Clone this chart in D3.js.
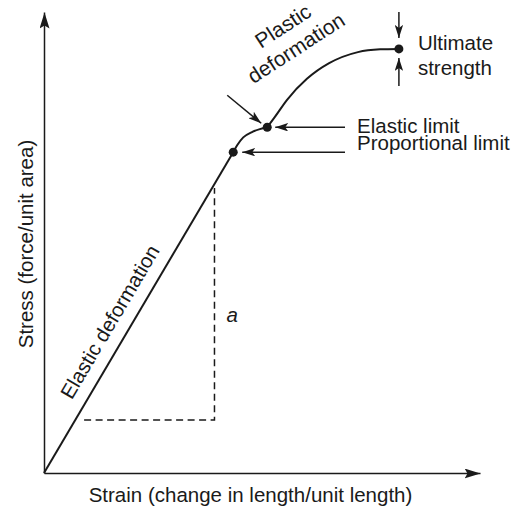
<!DOCTYPE html>
<html>
<head>
<meta charset="utf-8">
<script src="https://cdn.jsdelivr.net/npm/d3@7"></script>
<style>
  html, body { margin: 0; padding: 0; background: #fff; }
  svg { display: block; }
  text { font-family: "Liberation Sans", Arial, Helvetica, sans-serif; fill: #1a1a1a; }
</style>
</head>
<body>
<svg id="chart" width="515" height="507"></svg>
<script>
// ---------- data (strain %, stress % of axis) ----------
const elasticStrain = [0, 43.4];
const elasticStress = [0, 69.6];
const yieldStrain = [43.4, 44.3, 45.7, 47.6, 49.5, 51.2];
const yieldStress = [69.6, 71.1, 72.8, 73.9, 74.6, 75.0];
const plasticStrain = [51.2, 53.0, 55.7, 60.3, 65.4, 72.0, 77.1, 81.4];
const plasticStress = [75.0, 77.3, 80.9, 85.5, 88.9, 91.3, 91.9, 92.0];
const keyNames = ["Proportional limit", "Elastic limit", "Ultimate strength"];
const keyStrain = [43.4, 51.2, 81.4];
const keyStress = [69.6, 75.0, 92.0];
const slopeStrain = [9.2, 39.1, 39.1];
const slopeStress = [11.5, 11.5, 61.8];
const xLabel = "Strain (change in length/unit length)";
const yLabel = "Stress (force/unit area)";

// ---------- setup ----------
const ink = "#1a1a1a";
const fs = 20.5;
const svg = d3.select("#chart");
const x = d3.scaleLinear().domain([0, 100]).range([44, 480]);
const y = d3.scaleLinear().domain([0, 100]).range([473, 12]);
const zip = (a, b) => a.map((v, i) => [v, b[i]]);

const defs = svg.append("defs");
function marker(id, len, hw, notch) {
  defs.append("marker")
    .attr("id", id).attr("markerUnits", "userSpaceOnUse")
    .attr("viewBox", `${-len} ${-hw} ${len} ${hw * 2}`)
    .attr("refX", 0).attr("refY", 0)
    .attr("markerWidth", len).attr("markerHeight", hw * 2)
    .attr("orient", "auto")
    .append("path")
    .attr("d", `M0,0L${-len},${-hw}L${-len + notch},0L${-len},${hw}Z`)
    .attr("fill", ink);
}
marker("axisHead", 16, 5, 3);
marker("noteHead", 13, 4.2, 3);

// ---------- axes ----------
const gx = svg.append("g").attr("transform", `translate(0,${y(0)})`)
  .call(d3.axisBottom(x).ticks(0).tickSizeOuter(0).tickSizeInner(0));
const gy = svg.append("g").attr("transform", `translate(${x(0)},0)`)
  .call(d3.axisLeft(y).ticks(0).tickSizeOuter(0).tickSizeInner(0));
[gx, gy].forEach(g => {
  g.selectAll("text").remove();
  g.select(".domain").attr("stroke", ink).attr("stroke-width", 1.5)
    .attr("marker-end", "url(#axisHead)");
});

svg.append("text").attr("x", 250.5).attr("y", 502)
  .attr("text-anchor", "middle").attr("font-size", fs).text(xLabel);
svg.append("text").attr("transform", `translate(33,244) rotate(-90)`)
  .attr("text-anchor", "middle").attr("font-size", fs).text(yLabel);

// ---------- curve ----------
const line = d3.line().x(d => x(d[0])).y(d => y(d[1]));
const smooth = d3.line().x(d => x(d[0])).y(d => y(d[1])).curve(d3.curveMonotoneX);
svg.append("path").attr("d", line(zip(elasticStrain, elasticStress)))
  .attr("fill", "none").attr("stroke", ink).attr("stroke-width", 2);
svg.append("path").attr("d", smooth(zip(yieldStrain, yieldStress)))
  .attr("fill", "none").attr("stroke", ink).attr("stroke-width", 2);
svg.append("path").attr("d", smooth(zip(plasticStrain, plasticStress)))
  .attr("fill", "none").attr("stroke", ink).attr("stroke-width", 2);

// slope triangle
svg.append("path").attr("d", line(zip(slopeStrain, slopeStress)))
  .attr("fill", "none").attr("stroke", ink).attr("stroke-width", 1.5)
  .attr("stroke-dasharray", "7,4.5");
svg.append("text")
  .attr("x", x(slopeStrain[2]) + 12)
  .attr("y", y((slopeStress[1] + slopeStress[2]) / 2) + 18)
  .attr("font-size", fs).attr("font-style", "italic").text("a");

// key points
const keys = keyNames.map((n, i) => ({ name: n, px: x(keyStrain[i]), py: y(keyStress[i]) }));
svg.selectAll("circle.key").data(keys).join("circle").attr("class", "key")
  .attr("cx", d => d.px).attr("cy", d => d.py).attr("r", 4.5).attr("fill", ink);

// ---------- annotations ----------
function arrow(x1, y1, x2, y2) {
  svg.append("line").attr("x1", x1).attr("y1", y1).attr("x2", x2).attr("y2", y2)
    .attr("stroke", ink).attr("stroke-width", 1.5).attr("marker-end", "url(#noteHead)");
}
const [prop, elas, ult] = keys;
const labelX = 357;
arrow(labelX - 12, elas.py, elas.px + 8, elas.py);
arrow(labelX - 12, prop.py, prop.px + 9, prop.py);
svg.append("text").attr("x", labelX).attr("y", elas.py + 6).attr("font-size", fs).text("Elastic limit");
svg.append("text").attr("x", labelX).attr("y", prop.py - 2).attr("font-size", fs).text("Proportional limit");

// ultimate strength
arrow(ult.px, ult.py - 37, ult.px, ult.py - 11);
arrow(ult.px, ult.py + 37, ult.px, ult.py + 9);
const uName = ult.name.split(" ");
svg.append("text").attr("x", ult.px + 19).attr("y", ult.py + 1).attr("font-size", fs).text(uName[0]);
svg.append("text").attr("x", ult.px + 19).attr("y", ult.py + 26).attr("font-size", fs).text(uName[1]);

// diagonal arrow to elastic limit
arrow(elas.px - 40, elas.py - 32, elas.px - 6, elas.py - 4);

// Plastic deformation label
const pg = svg.append("g").attr("transform", `translate(300,54) rotate(-33)`);
pg.append("text").attr("x", 1).attr("y", -25.5).attr("text-anchor", "middle").attr("font-size", 21).text("Plastic");
pg.append("text").attr("x", 0).attr("y", 0).attr("text-anchor", "middle").attr("font-size", 21).text("deformation");

// Elastic deformation label along the line
const p0 = [x(elasticStrain[0]), y(elasticStress[0])];
const p1 = [x(elasticStrain[1]), y(elasticStress[1])];
const ang = Math.atan2(p1[1] - p0[1], p1[0] - p0[0]) * 180 / Math.PI;
const t = 0.45;
const mx = p0[0] + (p1[0] - p0[0]) * t, my = p0[1] + (p1[1] - p0[1]) * t;
svg.append("text")
  .attr("transform", `translate(${mx},${my}) rotate(${ang}) translate(-4,-13)`)
  .attr("text-anchor", "middle").attr("font-size", fs).text("Elastic deformation");
</script>
</body>
</html>
